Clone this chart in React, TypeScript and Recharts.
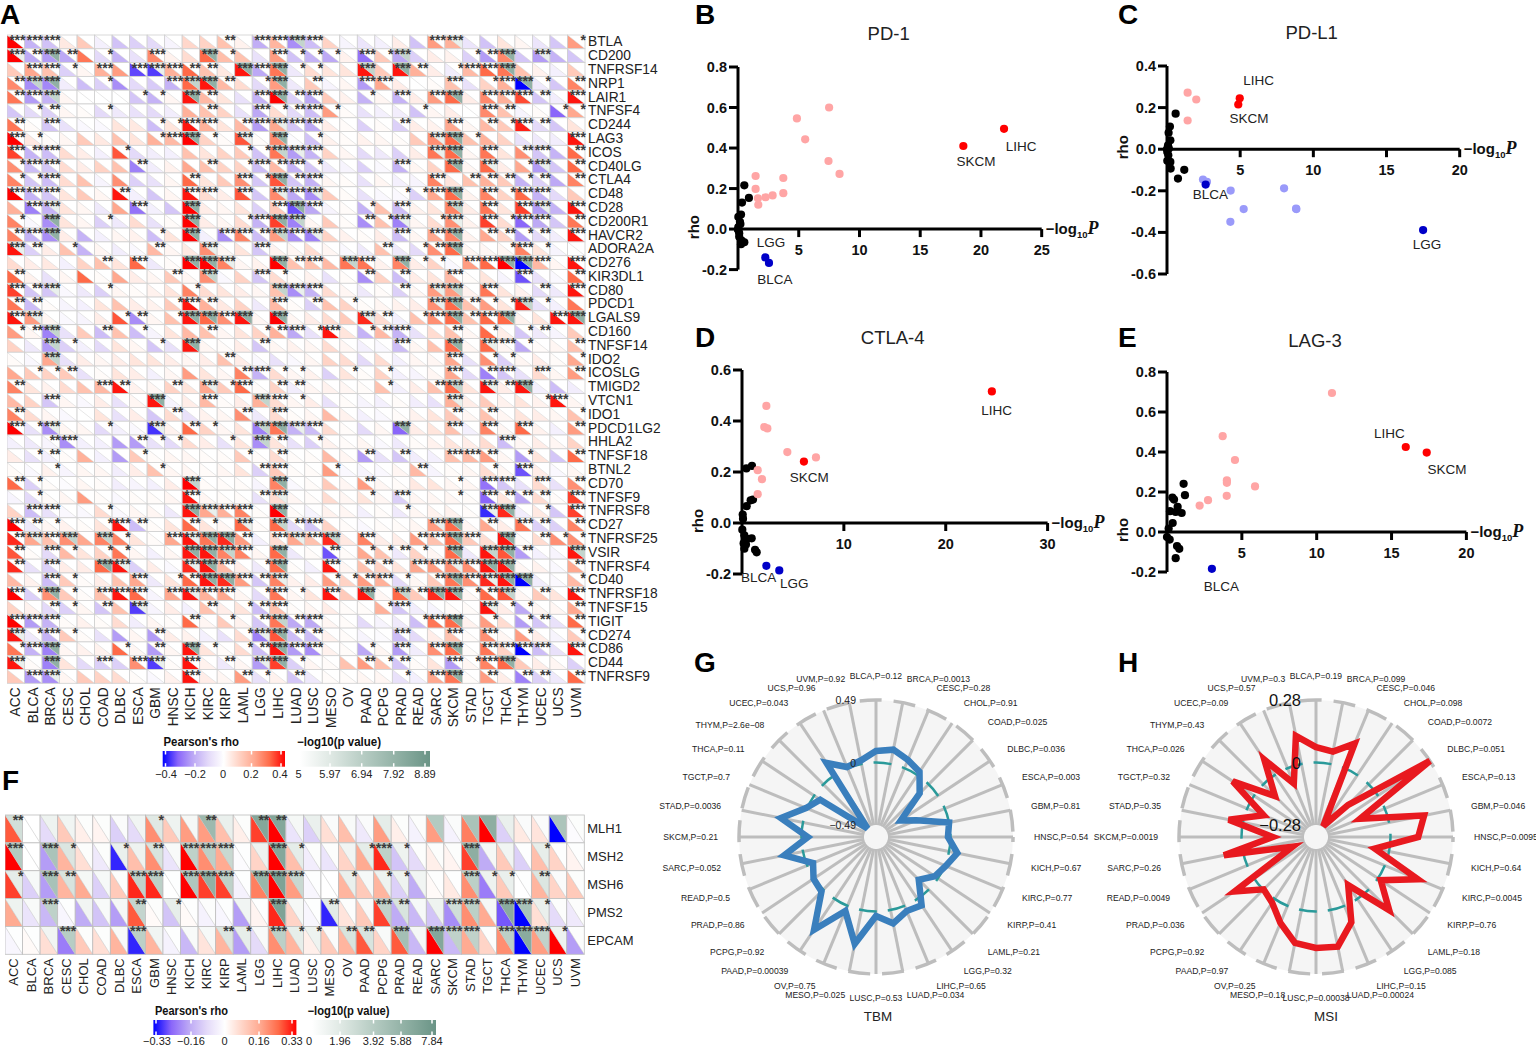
import React from 'react';
import {
    ScatterChart, Scatter, XAxis, YAxis, ReferenceLine, ReferenceDot,
    RadarChart, Radar, PolarGrid, PolarAngleAxis, PolarRadiusAxis
} from 'recharts';

const FONT = '"Liberation Sans", Arial, sans-serif';

// ---------- heatmap axes
const cancers = ['ACC', 'BLCA', 'BRCA', 'CESC', 'CHOL', 'COAD', 'DLBC', 'ESCA', 'GBM', 'HNSC', 'KICH', 'KIRC', 'KIRP', 'LAML', 'LGG', 'LIHC', 'LUAD', 'LUSC', 'MESO', 'OV', 'PAAD', 'PCPG', 'PRAD', 'READ', 'SARC', 'SKCM', 'STAD', 'TGCT', 'THCA', 'THYM', 'UCEC', 'UCS', 'UVM'];
const checkpointGenes = ['BTLA', 'CD200', 'TNFRSF14', 'NRP1', 'LAIR1', 'TNFSF4', 'CD244', 'LAG3', 'ICOS', 'CD40LG', 'CTLA4', 'CD48', 'CD28', 'CD200R1', 'HAVCR2', 'ADORA2A', 'CD276', 'KIR3DL1', 'CD80', 'PDCD1', 'LGALS9', 'CD160', 'TNFSF14', 'IDO2', 'ICOSLG', 'TMIGD2', 'VTCN1', 'IDO1', 'PDCD1LG2', 'HHLA2', 'TNFSF18', 'BTNL2', 'CD70', 'TNFSF9', 'TNFRSF8', 'CD27', 'TNFRSF25', 'VSIR', 'TNFRSF4', 'CD40', 'TNFRSF18', 'TNFSF15', 'TIGIT', 'CD274', 'CD86', 'CD44', 'TNFRSF9'];
const mmrGenes = ['MLH1', 'MSH2', 'MSH6', 'PMS2', 'EPCAM'];

// panel A, rho x 100, one row per gene
const rhoA = [
    [40, -18, -15, 5, 12, -4, -15, -12, -10, -3, 9, 10, 14, 3, -19, 17, -24, -16, 10, -3, -7, -4, 4, -15, 22, 18, -7, -15, 6, 2, -7, -14, 22],
    [40, -20, -22, -20, 28, -10, -18, -8, 25, 3, 8, 30, 15, 14, -8, 22, -15, -18, -20, 3, -28, 12, -20, -12, 4, 3, -12, -22, 25, -14, -22, -18, -14],
    [12, 20, 14, -12, 2, 18, 22, -33, -34, 18, 30, 14, 5, 38, -20, 28, -6, 8, 6, 6, 38, 12, 38, 18, 4, -5, 16, 30, 28, 14, 3, -4, 12],
    [25, -24, -25, -5, -16, -12, -24, -10, -13, -18, 30, 38, 16, 8, -10, 22, -6, 12, -3, 2, -22, 20, 4, 0, 1, 14, -8, 10, 18, -40, -6, -14, 26],
    [28, -22, -18, 2, 0, 0, 0, -14, -18, 2, 38, 16, 6, -8, -18, 40, -12, -20, 12, 3, -18, 2, -18, 4, 22, 30, 4, 25, 18, 33, -14, -5, 38],
    [-14, -10, -12, 2, 1, -10, -6, -8, -10, -5, 18, 14, 10, -8, -20, 8, -10, -16, 22, 1, -8, -4, -5, -15, 2, 4, 0, 25, 14, -3, 1, -30, 20],
    [28, 1, -14, -8, -2, -2, 6, 5, -16, 6, 38, 18, 6, 16, -22, 20, -14, -20, 4, 1, -12, 1, -12, 4, 3, 20, 2, 16, 12, 37, -10, -14, 6],
    [40, 5, 1, 2, 12, 5, 14, 6, 18, 16, 40, 10, 1, 32, 1, 25, -1, -15, 3, 1, 3, 2, 1, 12, 24, 30, 14, 18, 10, -8, -6, -5, 38],
    [34, -18, -16, 8, 4, -4, 32, -10, -5, -4, 14, 6, 10, 12, -15, 28, -22, -18, 10, 2, -10, -6, -12, 4, 28, 30, 2, 28, 6, 24, -14, -18, 30],
    [24, -16, -14, 8, 4, 10, 14, -26, -5, 3, 20, 14, 10, 10, -16, 16, -18, -14, -6, -3, -12, -2, -18, 2, 10, 30, 2, 30, 4, 20, -22, -14, 30],
    [26, -14, -16, 8, 14, -3, 24, -12, -8, 2, 30, 6, 12, 24, -14, 32, -14, -18, 2, 1, -8, 2, -4, -3, 26, 6, 14, 18, 12, -18, -12, -20, 26],
    [40, -18, -14, 6, 12, 2, 38, -4, -14, 2, 38, 8, 4, 32, -14, 25, -20, -24, 12, 1, -8, -2, -2, -12, 20, 30, 3, 26, 10, 30, -18, -10, 12],
    [18, -26, -18, 6, 2, -6, 20, -28, -4, -14, 40, 4, 2, 6, -12, 12, -32, -20, -3, 1, -18, 14, -16, 3, 6, 26, 4, 28, 6, 34, -22, -18, 38],
    [26, -2, -24, 6, 2, -12, -6, 8, -8, 1, 40, 4, 2, 8, -18, 34, -26, 2, 12, 1, -24, 14, -26, 2, 8, 24, 3, 34, 8, -30, -20, -14, 28],
    [26, -18, -24, 4, -18, -4, 2, 3, -16, 6, 40, -4, -24, 26, -16, 22, -24, -26, 10, 3, 1, 4, -16, 2, 20, 26, 3, 20, 10, -22, -10, -5, 38],
    [38, -12, 4, 14, -18, 2, -5, -2, 16, 2, 5, 24, 2, 6, -14, 3, 2, 8, 2, -2, -6, 14, -6, -10, 24, 30, 2, 2, 2, 26, 6, -3, 0],
    [8, 4, 5, -4, 10, 14, 6, 30, -6, 1, 40, 40, 26, 2, 3, 40, 14, 14, 16, 28, 28, 3, 26, 4, 10, -2, 22, 30, 40, -40, 16, 2, 38],
    [30, 3, -8, 2, 30, 1, 20, 4, 2, 12, 2, 24, -2, 10, -14, 8, 1, 3, -8, 1, -24, 10, -16, 4, 6, 16, 1, 6, -3, -32, -8, -2, 30],
    [34, -14, -14, -2, -6, -12, 2, 1, 3, 6, 26, 8, 6, 4, 2, 14, -24, -18, 8, 2, -6, 1, -12, 2, 22, 22, 3, 28, 6, 3, -10, -6, 38],
    [28, -16, 1, -3, -4, 6, 14, 4, 3, 12, 38, 18, 5, 10, -6, 16, 1, -12, 14, 10, 1, 2, 3, 4, 24, 30, 14, 22, 6, 37, -8, -4, 28],
    [38, 22, 2, -2, -3, 4, 32, -24, 2, 14, 38, 30, 24, 38, 2, 40, 2, 4, 8, 12, 36, 8, -4, 14, 24, 30, 14, 30, 30, 3, 6, 38, 38],
    [22, 2, -26, -8, 12, -16, 14, -16, -3, 6, 16, 14, 2, 6, 10, 18, -20, -8, 38, 6, -18, 16, -18, -8, 8, 14, 2, 30, 4, -14, -6, -3, 12],
    [10, -6, -22, -12, -4, -10, 6, 2, -14, -8, 38, 2, 1, 4, -14, 2, 3, 2, 8, 2, -4, -2, -16, 2, 14, 30, 2, 30, 2, -20, 1, 2, 14],
    [1, -2, 20, -8, 4, 2, 4, 6, 6, 4, 2, 4, 14, 4, -2, -8, -2, 2, 10, 8, -10, 8, -4, 2, 2, 20, -8, 24, -12, 2, 4, 1, 20],
    [20, 12, 10, 12, -8, 1, 6, 4, -4, 2, 22, 6, 2, 26, -18, 8, 2, 3, -12, 6, 1, 10, -4, -3, 2, 20, -10, -26, -14, -8, 8, 2, 22],
    [26, 6, 3, 8, 14, 16, 38, 3, 2, 10, 6, 20, 12, 30, 1, 10, -5, 2, 3, 2, 1, 14, -4, 4, 14, 30, 6, 38, 4, 38, -4, -16, -5],
    [16, 10, -14, 2, -2, 4, -8, 2, 38, -3, 4, 16, 1, 4, 18, 8, 2, 4, -8, 1, -3, -4, 1, -5, -8, 18, 4, 12, 3, 6, 3, 38, 2],
    [26, 8, 2, -2, 0, 6, -8, 4, -14, 8, -8, 3, 2, 24, -6, 8, 1, 2, 16, 3, -4, -2, 1, 3, 6, 12, 2, 14, 2, 6, 4, 2, 14],
    [40, -8, -24, 2, 2, -10, -4, -2, -35, 3, 30, 10, 2, 6, -26, 28, -18, -16, 8, 1, -10, 2, -30, 4, 6, 14, -4, 26, 2, 30, 3, -4, 22],
    [-4, -6, -3, -24, -4, -4, -22, -22, -8, -10, 8, 4, -8, 6, -24, 6, -8, -12, 3, 1, 2, -2, -6, 1, 3, 6, 4, 8, -16, 2, 4, 2, 10],
    [4, -8, -4, 1, 18, -4, -22, 12, 1, 2, 2, 1, 1, 12, 1, 8, 1, 1, 16, 2, -22, -8, -14, -5, -4, 14, 16, 22, 2, -22, 6, -14, 30],
    [1, -2, 3, -3, 2, 2, -5, 4, 14, 2, 2, 1, 2, 6, -12, 12, 1, 1, 22, -2, -3, -2, 2, 16, -3, 1, 2, 8, 2, -32, 4, -2, 2],
    [30, -12, 1, -1, 2, 1, -5, -3, -4, 4, 40, 1, 1, 1, -3, 26, -2, 1, 12, 2, 22, 2, 1, 5, 6, 2, 2, -28, -14, -8, 8, -8, 24],
    [-3, -10, 1, 2, 22, 1, -2, 1, 1, 2, 38, 2, 1, 1, -8, 8, 2, 1, 8, 2, 6, 2, -12, 2, 2, 2, 1, -30, 6, -20, 8, 1, 34],
    [10, -16, -8, -2, -2, 8, -2, 2, 2, -6, 38, 20, 18, 26, 1, 40, 1, -3, 3, 2, -4, 1, -6, 2, 3, 3, 1, -36, 36, -5, 5, -14, 34],
    [40, -6, 2, 3, 1, 6, 38, -16, 1, 6, 30, 6, 2, 30, 1, 30, -10, -14, 10, 1, -2, 1, 1, 2, 22, 30, 2, 20, 4, 28, -12, -12, 26],
    [36, 20, 14, 24, 20, 26, 26, 6, 1, 20, 38, 28, 36, 22, -4, 8, 20, 14, 36, 5, 26, 4, 4, 22, 14, 30, 12, 8, 38, 1, 8, 24, 24],
    [32, 1, -10, 16, 6, 10, 28, 2, -4, 2, 38, 38, 26, 26, 2, 30, -6, 1, -32, 1, 20, 14, -6, 10, 2, 30, -6, 38, 32, -22, -4, -3, 38],
    [36, -8, -12, 4, 4, 30, 38, -12, 4, -2, 36, 38, 16, 4, -6, 30, 1, -4, 38, 2, 14, 10, 6, 20, 22, 24, 24, 38, 38, 2, 3, -2, 20],
    [16, 3, -16, 12, 1, 4, 14, 20, -6, 6, 30, 38, 36, 22, -14, 26, 3, 4, 22, 10, 22, 18, -10, 2, 12, 28, 24, 36, 38, -40, -5, -2, 16],
    [40, -12, 24, 12, 1, 14, 38, 30, -3, 20, 38, 18, 20, 2, -10, 28, 2, 6, 38, 12, 38, 2, 30, 12, 36, 38, 2, 30, 32, 2, 12, 6, 38],
    [10, 3, -10, -12, 2, -14, 14, -34, -3, 4, -4, 14, 4, 6, -16, 14, 1, 2, 4, 1, 1, 18, -14, -5, -3, 1, 1, 38, 4, -20, 2, 2, 20],
    [40, -22, -18, 1, 3, 1, 8, -5, 2, 1, 30, 2, 12, 3, -14, 28, -20, -20, 2, 1, -10, -3, -6, -16, 28, 30, 3, 22, 8, -22, -14, -8, 30],
    [38, -6, -18, 12, 1, -8, -22, 2, -22, 4, 3, -4, -8, 8, -26, 32, -16, -16, 3, 1, -3, -1, -16, -10, 4, 14, 1, 24, 2, 22, 4, -3, 12],
    [28, -18, -26, 2, 3, 3, 30, 2, -22, 2, 38, 6, 1, 8, -16, 38, -22, -24, 3, 1, -20, 2, -22, -5, 24, 30, 1, 28, 10, -40, -16, -8, 38],
    [38, 1, -26, 6, -10, -12, -12, 24, -34, 1, 38, 3, -6, 2, -22, 34, -12, 2, 1, 14, 22, 14, -14, 1, 6, -22, 2, 26, 30, 12, 4, 2, -12],
    [12, -22, -24, 2, 12, 10, 8, 1, -2, 3, 38, 4, 2, 22, -8, 3, -14, -6, 1, 1, 2, 2, -8, -4, 20, 28, 1, 22, 4, -26, -12, -6, 30]
];

// panel A significance: 0-3 = asterisks, a-d = *** plus rising green for -log10(p) above 5
const sigA = [
    '3330000000 002033b300 00003a0000 001', 'a2c2010030 0c10031110 31b00012c0 a00', '03310303a3 220c3c1100 b0c20133c0 000',
    '2bc0010003 bc201c0200 330003013c 102', '23b0000110 c2003c2300 10303c0333 203', '0120010000 0200312310 0001000320 011',
    '2030000011 33023a3300 0020030213 200', '3100000013 c10a0c0100 0000ac1000 003', '3230001000 00011ba300 0000ac0302 302',
    '1330000200 0201323100 00300c0a01 a02', '1130000000 20031c2300 0000302221 202', '3330002000 33030a3a00 00113c0313 300',
    '03a0000300 c00003c300 10300b0303 a03', '10c0010000 c0013cb000 21a01a0313 302', '23c0000010 c0332b3a00 00303c0221 203',
    'a201000020 0a00300000 02012c0013 100', '0000020300 cca00c230b 30c11033cc 303', '2000000002 0b00310000 2020030003 002',
    '32a0010000 10000ba300 0020ab0300 203', '2200000001 3200030201 0000ac211b 100', '3a00001201 cc3c0c0000 a2013c23c0 03c',
    '12b0020100 0200123130 1230020101 200', '00b1000010 c000200000 00300c0a31 002', '00b0000000 0020000000 0000030110 001',
    '0112000000 0002311001 0100030230 302', '2000032002 0a13022000 01002b0a2c 000', '00300000c0 0300b31000 00000a0000 130',
    '2000000002 0002030000 0000020200 001', '31a00100a0 2100bca300 00c0030303 002', '0023000211 0010b20100 0000000030 000',
    '0120000100 0001020000 2020033201 002', '0010000010 0000230010 0002000103 000', '2100000000 b0000c0000 2000010330 302',
    '0100000000 30002a0000 1030010322 203', '0330010000 ca330c0000 0010000ac0 103', '3210013200 210a0b2300 0000ac0203 202',
    '2a3b0b1003 acc203a3b0 30023c30c0 211', '2031011000 ccb30c0020 11210c0bc2 00b', '20300ca000 ac301c0030 22033a3cc0 002',
    '0031000301 2cc32a0011 23102c3acc 001', '31c1033303 a330131030 c0b2cc12b0 203', '0021020a00 0201230000 0130000a11 002',
    '3330000000 20102b2300 00013c0101 202', 'a131000020 0001ac2200 0030030301 001', '13c0001020 c1012c3300 10303c0333 303',
    'a0c00303a0 3020ac1000 21200313c0 000', '03a0000000 3002102000 00103c0202 202'
];
const greenLevels: Record<string, number> = { a: 5.6, b: 6.6, c: 7.9, d: 8.89 };

// panel F, rho x 100, -log10(p) and asterisks
const rhoF = [
    [26, 0, -8, 10, 3, 2, -10, -8, 20, 10, 18, 18, 12, 3, 28, 33, -6, -10, 6, 12, -5, 18, 3, -3, 18, -3, 22, 33, -10, 4, 5, -33, -1],
    [33, 0, -18, 14, 6, -5, -30, 12, 20, -6, 33, 20, 16, -1, 8, 33, 12, -4, -6, 8, 16, 30, -12, -8, 3, 2, 28, -16, 10, -10, 12, 8, 2],
    [28, -10, -18, 14, 16, -10, 10, 30, 30, 0, 33, 28, 28, -3, 22, 33, 18, -2, 0, 14, 10, 14, -10, -16, 1, 4, 20, -22, 10, 0, 14, 8, 10],
    [16, -6, -14, -2, -16, -12, -18, 26, 1, -12, 1, -3, -2, -18, 2, 30, 8, -2, -30, 5, 10, 28, -16, -14, -12, -20, 20, 16, -26, -33, 6, -8, -5],
    [-2, 1, 6, -22, 10, 6, 14, -30, 14, -3, -14, 5, 14, -18, -8, 20, 14, 3, 10, 14, 26, 8, 26, -14, 33, -14, 16, 8, 20, -33, 18, 33, -18]
];
const logPF = [
    [2.5, 0, 1, 0.8, 0.2, 0.2, 0.3, 0.8, 1.8, 1, 0.6, 5.2, 1.2, 0.2, 6.5, 6.5, 0.6, 1.2, 0.3, 0.4, 0.3, 1.5, 0.2, 0.2, 4, 0.3, 4.5, 6, 1.2, 0.3, 0.3, 4.4, 0.2],
    [4, 0, 4.5, 2, 0.2, 0.2, 1.2, 1, 2.2, 0.4, 3.5, 3.6, 3, 0.1, 1, 6.5, 1.5, 0.2, 0.2, 0.8, 1.5, 3.5, 1, 0.2, 0.2, 0.2, 6, 0.6, 0.8, 0.1, 1.4, 0.1, 0.1],
    [1.5, 0.5, 4.6, 2.2, 0.6, 0.5, 0.2, 3.4, 3.6, 0.1, 4.2, 5.8, 3.5, 0.1, 5.4, 6.8, 3, 0.1, 0, 1.2, 0.5, 1, 1, 0.8, 0.1, 0.1, 3.6, 1, 1.2, 0.1, 2, 0.3, 0.2],
    [1, 0.4, 3.5, 0.1, 0.8, 0.4, 0.6, 3.2, 0.2, 1.4, 0.1, 0.2, 0.1, 0.8, 0.1, 6.8, 0.6, 0.1, 1.6, 0.2, 0.4, 3.4, 2.2, 0.5, 1, 2.6, 3.6, 0.6, 6.2, 4.6, 1.2, 0.2, 0.2],
    [0.1, 0.1, 0.8, 3.8, 0.2, 0.2, 0.4, 3.6, 0.8, 0.1, 0.4, 0.5, 2, 1.4, 0.4, 3.6, 1.4, 1, 0.3, 2.2, 2.2, 0.4, 4.8, 0.6, 6.5, 3.4, 3.4, 0.2, 3.6, 6.2, 3.4, 1, 0.2]
];
const starsF = [
    '2000000010 0200220000 0000000000 000',
    '3031001020 3330031000 1310003000 100',
    '1032000330 3330333001 0110003110 200',
    '0030000201 0000030020 0320033033 100',
    '0003000300 0021031102 2030333033 310'
];

// ---------- scatter panels (x = -log10 P, y = rho)
const pd1Black = [[0.52, 0.216], [0.9, 0.154], [0.33, 0.131], [0.25, 0.072], [0.03, 0.06], [0.16, 0.036], [0.2, 0.025], [0.03, 0.01], [0.03, -0.005], [0, -0.002], [0.1, -0.02], [0.1, -0.038], [0.3, -0.057], [0.52, -0.065], [0.25, -0.075]];
const pd1Pink = [[7.5, 0.6], [4.85, 0.546], [5.53, 0.443], [7.45, 0.336], [8.36, 0.272], [1.45, 0.262], [3.73, 0.252], [1.45, 0.198], [3.73, 0.177], [2.85, 0.166], [2.27, 0.157], [1.64, 0.152], [1.67, 0.12]];
const pd1Red = [[21.9, 0.495], [18.55, 0.41]];
const pd1Blue = [[2.25, -0.14], [2.55, -0.167]];
const pd1Notes = [{ x: 23.3, y: 0.41, text: 'LIHC' }, { x: 19.6, y: 0.334, text: 'SKCM' }, { x: 2.71, y: -0.064, text: 'LGG' }, { x: 3.04, y: -0.248, text: 'BLCA' }];

const pdl1Black = [[0.59, 0.171], [0.2, 0.109], [0.11, 0.079], [0.23, 0.043], [0.07, 0.019], [0.13, 0.003], [0, 0], [0.02, -0.013], [0.09, -0.029], [0.02, -0.056], [0.23, -0.061], [0.25, -0.093], [1.18, -0.099], [0.75, -0.141]];
const pdl1Pink = [[1.41, 0.272], [2.0, 0.239], [1.41, 0.138]];
const pdl1Red = [[4.97, 0.245], [4.87, 0.215]];
const pdl1Light = [[2.46, -0.146], [2.73, -0.157], [4.35, -0.199], [8.0, -0.188], [5.24, -0.288], [8.84, -0.288], [8.82, -0.286], [4.33, -0.349]];
const pdl1Blue = [[2.64, -0.17], [17.5, -0.389]];
const pdl1Notes = [{ x: 6.26, y: 0.329, text: 'LIHC' }, { x: 5.6, y: 0.147, text: 'SKCM' }, { x: 2.96, y: -0.218, text: 'BLCA' }, { x: 17.77, y: -0.46, text: 'LGG' }];

const ctla4Black = [[0.98, 0.224], [0.43, 0.214], [1.08, 0.092], [0.85, 0.089], [0.46, 0.066], [0.07, 0.033], [0.1, 0.017], [0.03, -0.026], [0.23, -0.048], [0.95, -0.06], [0.49, -0.062], [0.39, -0.084], [0.16, -0.08], [0.23, -0.101], [1.28, -0.105], [1.44, -0.115]];
const ctla4Pink = [[2.39, 0.459], [2.19, 0.376], [2.49, 0.371], [4.45, 0.278], [7.26, 0.257], [1.54, 0.207], [1.96, 0.172], [1.54, 0.113]];
const ctla4Red = [[24.53, 0.516], [6.08, 0.241]];
const ctla4Blue = [[2.39, -0.168], [3.66, -0.186]];
const ctla4Notes = [{ x: 25.0, y: 0.442, text: 'LIHC' }, { x: 6.6, y: 0.177, text: 'SKCM' }, { x: 1.64, y: -0.215, text: 'BLCA' }, { x: 5.14, y: -0.239, text: 'LGG' }];

const lag3Black = [[1.11, 0.241], [1.2, 0.184], [0.36, 0.172], [0.47, 0.162], [0.71, 0.126], [0.2, 0.104], [0.58, 0.1], [0.98, 0.095], [0.38, 0.045], [0.11, 0.017], [0, -0.025], [0.18, -0.038], [0.67, -0.07], [0.82, -0.084], [0.58, -0.131]];
const lag3Pink = [[11.02, 0.695], [3.72, 0.479], [4.54, 0.36], [4.0, 0.258], [4.0, 0.246], [5.88, 0.228], [3.99, 0.181], [2.74, 0.159], [2.18, 0.132]];
const lag3Red = [[15.95, 0.425], [17.35, 0.397]];
const lag3Blue = [[3.0, -0.184]];
const lag3Notes = [{ x: 14.86, y: 0.492, text: 'LIHC' }, { x: 18.7, y: 0.311, text: 'SKCM' }, { x: 3.63, y: -0.273, text: 'BLCA' }];

// ---------- radar panels
const radarCancers = cancers.slice(1);
const tbmP = ['0.12', '0.0013', '0.28', '0.91', '0.025', '0.036', '0.003', '0.81', '0.54', '0.67', '0.77', '0.41', '0.21', '0.32', '0.65', '0.034', '0.53', '0.025', '0.75', '0.00039', '0.92', '0.86', '0.5', '0.052', '0.21', '0.0036', '0.7', '0.11', '2.6e\u221208', '0.043', '0.96', '0.92'];
const tbmRho = [0.09, 0.114, 0.07, 0.03, -0.1, -0.35, -0.24, 0, -0.02, 0.066, 0.008, -0.03, -0.11, 0.06, 0.044, 0.106, 0.036, 0.27, 0.044, 0.29, 0.02, 0.005, -0.05, 0.15, -0.05, 0.176, 0.01, -0.058, -0.49, 0.114, 0.01, 0.027];
const msiP = ['0.19', '0.099', '0.046', '0.098', '0.0072', '0.051', '0.13', '0.046', '0.0095', '0.64', '0.0045', '0.76', '0.18', '0.085', '0.15', '0.00024', '0.00038', '0.18', '0.25', '0.97', '0.92', '0.036', '0.0049', '0.26', '0.0019', '0.35', '0.32', '0.026', '0.43', '0.09', '0.57', '0.3'];
const msiRho = [0.069, 0.056, 0.119, -0.275, -0.13, 0.28, -0.12, 0.16, 0.124, -0.065, 0.16, 0.015, 0.13, -0.074, 0.08, 0.167, 0.163, 0.15, 0.083, 0.02, -0.002, 0.105, -0.22, 0.087, -0.14, 0.065, -0.08, 0.115, -0.074, 0.083, -0.074, 0.128];

// ---------- colours
const blueStops = ['#ffffff', '#e4daf9', '#bda9f5', '#8a66fa', '#0000ff'];
const redStops = ['#ffffff', '#ffd3c5', '#ffa88f', '#ff6a48', '#ff0000'];
const greenStops = ['#ffffff', '#dde7e2', '#b5cbc2', '#90b0a4', '#6a9486'];

const ramp = (stops: string[], t: number) => {
    const p = Math.min(Math.max(t, 0), 1) * (stops.length - 1);
    const i = Math.min(Math.floor(p), stops.length - 2);
    const f = p - i;
    const ch = (s: string, k: number) => parseInt(s.slice(1 + k * 2, 3 + k * 2), 16);
    const mix = [0, 1, 2].map(k => Math.round(ch(stops[i], k) * (1 - f) + ch(stops[i + 1], k) * f));
    return `rgb(${mix[0]},${mix[1]},${mix[2]})`;
};
const rhoColor = (t: number) => (t < 0 ? ramp(blueStops, -t) : ramp(redStops, t));

const clean = (s: string) => s.replace(/ /g, '');

const cellsA = checkpointGenes.flatMap((_, r) => cancers.map((_c, c) => {
    const ch = clean(sigA[r])[c] || '0';
    const level = greenLevels[ch];
    return {
        col: c + 0.5, row: r + 0.5,
        rho: rhoColor(rhoA[r][c] / 40),
        green: level ? ramp(greenStops, (level - 5) / 3.89) : '#ffffff',
        stars: level ? 3 : Number(ch)
    };
}));
const cellsF = mmrGenes.flatMap((_, r) => cancers.map((_c, c) => ({
    col: c + 0.5, row: r + 0.5,
    rho: rhoColor(rhoF[r][c] / 33),
    green: ramp(greenStops, logPF[r][c] / 7.84),
    stars: Number(clean(starsF[r])[c] || 0)
})));

function Heatmap({ left, top, plotW, plotH, genes, cells, tickFont, geneFont, border }: any) {
    const w = plotW / cancers.length;
    const h = plotH / genes.length;
    const marginTop = 10;
    return (
        <div style={{ position: 'absolute', left, top: top - marginTop }}>
            <ScatterChart width={plotW + 90} height={plotH + marginTop + 50} margin={{ top: marginTop, left: 0, right: 0, bottom: 49 }}>
                <XAxis
                    type="number" dataKey="col" domain={[0, cancers.length]} ticks={cancers.map((_, i) => i + 0.5)} interval={0}
                    height={1} axisLine={false} tickLine={false}
                    tick={(p: any) => (
                        <text
                            transform={`translate(${p.x},${marginTop + plotH + 4}) rotate(-90)`}
                            textAnchor="end" dominantBaseline="central"
                            fontSize={tickFont} fontFamily={FONT} fill="#222"
                        >
                            {cancers[Math.floor(p.payload.value)]}
                        </text>
                    )}
                />
                <YAxis
                    type="number" dataKey="row" domain={[0, genes.length]} reversed orientation="right"
                    ticks={genes.map((_: string, i: number) => i + 0.5)} interval={0}
                    width={90} axisLine={false} tickLine={false}
                    tick={(p: any) => (
                        <text x={plotW + 3} y={p.y} dominantBaseline="central" fontSize={geneFont} fontFamily={FONT} fill="#222">
                            {genes[Math.floor(p.payload.value)]}
                        </text>
                    )}
                />
                <Scatter
                    data={cells} isAnimationActive={false}
                    shape={(p: any) => {
                        const x = p.cx - w / 2;
                        const y = p.cy - h / 2;
                        const d = p.payload;
                        return (
                            <g>
                                <path d={`M${x},${y}L${x},${y + h}L${x + w},${y + h}Z`} fill={d.rho} />
                                <path d={`M${x},${y}L${x + w},${y}L${x + w},${y + h}Z`} fill={d.green} />
                                <rect x={x} y={y} width={w} height={h} fill="none" stroke={border} strokeWidth={0.8} />
                                <line x1={x} y1={y} x2={x + w} y2={y + h} stroke={border} strokeWidth={0.5} />
                            </g>
                        );
                    }}
                />
                <Scatter
                    data={cells.filter((c: any) => c.stars > 0)} isAnimationActive={false}
                    shape={(p: any) => (
                        <text
                            x={p.cx + w / 2 + 1} y={p.cy - h / 2 + 10}
                            textAnchor="end" fontSize={14} fontWeight={700} fontFamily={FONT} fill="#3a3a3a"
                        >
                            {'*'.repeat(p.payload.stars)}
                        </text>
                    )}
                />
            </ScatterChart>
        </div>
    );
}

const toPoints = (list: number[][]) => list.map(([x, y]) => ({ x, y }));
const dot = (fill: string) => (p: any) => <circle cx={p.cx} cy={p.cy} r={4.1} fill={fill} />;

function VolcanoPanel({ axisX, topY, plotW, plotH, xMax, xTicks, yMin, yMax, yTicks, black, pink, light, red, blue, notes }: any) {
    const marginTop = 10;
    const axisWidth = 70;
    const zeroY = marginTop + plotH * yMax / (yMax - yMin);
    return (
        <div style={{ position: 'absolute', left: axisX - axisWidth, top: topY - marginTop }}>
            <ScatterChart width={plotW + axisWidth + 70} height={plotH + marginTop + 40} margin={{ top: marginTop, left: 0, right: 70, bottom: 39 }}>
                <XAxis
                    type="number" dataKey="x" domain={[0, xMax]} ticks={xTicks} interval={0} height={1}
                    axisLine={false} tickLine={false}
                    tick={(p: any) => (
                        <g>
                            <line x1={p.x} x2={p.x} y1={zeroY} y2={zeroY + 8} stroke="#000" strokeWidth={3} />
                            <text x={p.x} y={zeroY + 26} textAnchor="middle" fontSize={14.5} fontWeight={700} fontFamily={FONT} fill="#111">{p.payload.value}</text>
                        </g>
                    )}
                />
                <YAxis
                    type="number" dataKey="y" domain={[yMin, yMax]} ticks={yTicks} interval={0} width={axisWidth}
                    axisLine={false} tickLine={false}
                    tick={(p: any) => (
                        <g>
                            <line x1={axisWidth - 9} x2={axisWidth} y1={p.y} y2={p.y} stroke="#000" strokeWidth={3} />
                            <text x={axisWidth - 11} y={p.y} textAnchor="end" dominantBaseline="central" fontSize={14.5} fontWeight={700} fontFamily={FONT} fill="#111">
                                {Number(p.payload.value).toFixed(1)}
                            </text>
                        </g>
                    )}
                />
                <ReferenceLine x={0} stroke="#000" strokeWidth={3} />
                <ReferenceLine y={0} stroke="#000" strokeWidth={3} />
                <Scatter data={toPoints(black)} isAnimationActive={false} shape={dot('#000000')} />
                <Scatter data={toPoints(pink)} isAnimationActive={false} shape={dot('#ffa5a5')} />
                {light && <Scatter data={toPoints(light)} isAnimationActive={false} shape={dot('#9a9afa')} />}
                <Scatter data={toPoints(red)} isAnimationActive={false} shape={dot('#ff0000')} />
                <Scatter data={toPoints(blue)} isAnimationActive={false} shape={dot('#0000c8')} />
                {notes.map((n: any) => (
                    <ReferenceDot
                        key={n.text} x={n.x} y={n.y} ifOverflow="visible"
                        shape={(p: any) => (
                            <text x={p.cx} y={p.cy} textAnchor="middle" dominantBaseline="central" fontSize={13.5} fontFamily={FONT} fill="#222">{n.text}</text>
                        )}
                    />
                ))}
                <ReferenceDot
                    x={0} y={0} ifOverflow="visible"
                    shape={(p: any) => (
                        <text
                            transform={`translate(${p.cx - 44},${p.cy - 2}) rotate(-90)`}
                            textAnchor="middle" dominantBaseline="central"
                            fontSize={15} fontWeight={700} fontFamily={FONT} fill="#111"
                        >
                            rho
                        </text>
                    )}
                />
                <ReferenceDot
                    x={xMax} y={0} ifOverflow="visible"
                    shape={(p: any) => (
                        <text x={p.cx + 4} y={p.cy + 5} fontWeight={700} fontFamily={FONT} fontSize={15} fill="#111">
                            {'\u2212log'}
                            <tspan fontSize={9.5} dy={4}>10</tspan>
                            <tspan fontSize={18} dy={-4} fontStyle="italic" fontFamily='"Liberation Serif", serif'>P</tspan>
                        </text>
                    )}
                />
            </ScatterChart>
        </div>
    );
}

function RadarPanel({ centerX, centerY, pValues, values, limit, color, labelDx, labelFont, tickColor }: any) {
    const rows = radarCancers.map((name, i) => ({
        name: `${name},P=${pValues[i]}`,
        value: values[i]
    }));
    const zeroRadius = 12 + 125 / 2;
    return (
        <div style={{ position: 'absolute', left: centerX - 240, top: centerY - 200 }}>
            <div style={{ position: 'absolute', left: 240 - 137, top: 200 - 137, width: 274, height: 274, borderRadius: '50%', background: '#f5f5f5' }} />
            <div style={{ position: 'absolute', left: 0, top: 0 }}>
                <RadarChart
                    width={480} height={400} cx={240} cy={200} data={rows}
                    innerRadius={12} outerRadius={137} startAngle={90} endAngle={-270}
                >
                    <PolarGrid gridType="circle" polarRadius={[]} stroke="#bdbdbd" strokeWidth={3} />
                    <PolarGrid gridType="circle" polarRadius={[137]} radialLines={false} stroke="#bdbdbd" strokeWidth={3.5} strokeDasharray="22 12" strokeDashoffset={-17} />
                    <PolarGrid gridType="circle" polarRadius={[zeroRadius]} radialLines={false} stroke="#2a9a9a" strokeWidth={2.5} strokeDasharray="18 11" />
                    <PolarAngleAxis
                        dataKey="name" tickLine={false} axisLine={false} tickSize={21}
                        tick={{ fontSize: 8.6, fontFamily: FONT, fill: '#222' }}
                    />
                    <PolarRadiusAxis
                        angle={90} domain={[-limit, limit]} ticks={[-limit, 0, limit]} tickCount={3} axisLine={false} tickLine={false}
                        tick={(p: any) => (
                            <text x={p.x + labelDx} y={p.y} textAnchor="end" dominantBaseline="central" fontSize={labelFont} fontFamily={FONT} fill={tickColor}>
                                {String(p.payload.value).replace('-', '\u2212')}
                            </text>
                        )}
                    />
                    <Radar dataKey="value" stroke={color} strokeWidth={6.5} fillOpacity={0} isAnimationActive={false} dot={false} />
                </RadarChart>
            </div>
        </div>
    );
}

function ColorBar({ id, x, width, y, height, stops, tickXs, labels, labelXs, labelY }: any) {
    return (
        <g fontFamily={FONT}>
            <defs>
                <linearGradient id={id}>
                    {stops.map((c: string, i: number) => (
                        <stop key={i} offset={`${(i / (stops.length - 1)) * 100}%`} stopColor={c} />
                    ))}
                </linearGradient>
            </defs>
            <rect x={x} y={y} width={width} height={height} fill={`url(#${id})`} />
            {tickXs.map((t: number, i: number) => (
                <g key={i} stroke="#fff" strokeWidth={1.5}>
                    <line x1={t} x2={t} y1={y} y2={y + 3.5} />
                    <line x1={t} x2={t} y1={y + height - 3.5} y2={y + height} />
                </g>
            ))}
            {labels.map((l: string, i: number) => (
                <text key={l + i} x={labelXs[i]} y={labelY} textAnchor="middle" dominantBaseline="central" fontSize={11} fill="#222">{l}</text>
            ))}
        </g>
    );
}

const rhoBarStops = [...blueStops].reverse().concat(redStops.slice(1));

export default function App() {
    const letter = (t: string, x: number, y: number) => (
        <text x={x} y={y} fontSize={28} fontWeight={700} fontFamily={FONT} fill="#000">{t}</text>
    );
    const title = (t: string, x: number, y: number) => (
        <text x={x} y={y} textAnchor="middle" dominantBaseline="central" fontSize={18.5} fontFamily={FONT} fill="#222">{t}</text>
    );
    return (
        <div style={{ position: 'absolute', left: 0, top: 0, width: 1536, height: 1046, background: '#fff', overflow: 'hidden' }}>
            <Heatmap left={7} top={35} plotW={578} plotH={648.3} genes={checkpointGenes} cells={cellsA} tickFont={13.8} geneFont={13.8} border="#cfcfcf" />
            <Heatmap left={4.7} top={814.7} plotW={579.3} plotH={139.3} genes={mmrGenes} cells={cellsF} tickFont={13} geneFont={13} border="#bdbdbd" />

            <VolcanoPanel axisX={738} topY={66.7} plotW={303.7} plotH={202.6} xMax={25} xTicks={[5, 10, 15, 20, 25]} yMin={-0.2} yMax={0.8} yTicks={[-0.2, 0, 0.2, 0.4, 0.6, 0.8]} black={pd1Black} pink={pd1Pink} red={pd1Red} blue={pd1Blue} notes={pd1Notes} />
            <VolcanoPanel axisX={1167.3} topY={66} plotW={292.7} plotH={208} xMax={20} xTicks={[5, 10, 15, 20]} yMin={-0.6} yMax={0.4} yTicks={[-0.6, -0.4, -0.2, 0, 0.2, 0.4]} black={pdl1Black} pink={pdl1Pink} light={pdl1Light} red={pdl1Red} blue={pdl1Blue} notes={pdl1Notes} />
            <VolcanoPanel axisX={741.7} topY={370} plotW={305.6} plotH={204} xMax={30} xTicks={[10, 20, 30]} yMin={-0.2} yMax={0.6} yTicks={[-0.2, 0, 0.2, 0.4, 0.6]} black={ctla4Black} pink={ctla4Pink} red={ctla4Red} blue={ctla4Blue} notes={ctla4Notes} />
            <VolcanoPanel axisX={1167.3} topY={372.3} plotW={299.4} plotH={200} xMax={20} xTicks={[5, 10, 15, 20]} yMin={-0.2} yMax={0.8} yTicks={[-0.2, 0, 0.2, 0.4, 0.6, 0.8]} black={lag3Black} pink={lag3Pink} red={lag3Red} blue={lag3Blue} notes={lag3Notes} />

            <RadarPanel centerX={876} centerY={837} pValues={tbmP} values={tbmRho} limit={0.49} color="#3a7fbd" labelDx={-20} labelFont={10.5} tickColor="#222" />
            <RadarPanel centerX={1316} centerY={837} pValues={msiP} values={msiRho} limit={0.28} color="#e8191f" labelDx={-15} labelFont={16.5} tickColor="#111" />

            <svg width={1536} height={1046} style={{ position: 'absolute', left: 0, top: 0, pointerEvents: 'none' }}>
                {letter('A', 0, 24)}
                {letter('B', 695, 24)}
                {letter('C', 1118, 24)}
                {letter('D', 695, 346.7)}
                {letter('E', 1118, 346.7)}
                {letter('F', 2, 790)}
                {letter('G', 694, 672)}
                {letter('H', 1118, 672)}

                {title('PD-1', 888.7, 33)}
                {title('PD-L1', 1311.7, 32)}
                {title('CTLA-4', 892.7, 337.3)}
                {title('LAG-3', 1315, 340)}

                <text x={878} y={1016.7} textAnchor="middle" dominantBaseline="central" fontSize={13.4} fontFamily={FONT} fill="#222">TBM</text>
                <text x={1326} y={1016.7} textAnchor="middle" dominantBaseline="central" fontSize={13.4} fontFamily={FONT} fill="#222">MSI</text>

                <g fontFamily={FONT} fontWeight={700} fontSize={12} fill="#111">
                    <text x={163.5} y={741.7} dominantBaseline="central" textLength={75.5} lengthAdjust="spacingAndGlyphs">Pearson's rho</text>
                    <text x={297} y={741.7} dominantBaseline="central" textLength={84} lengthAdjust="spacingAndGlyphs">{'\u2212log10(p value)'}</text>
                    <text x={155} y={1011} dominantBaseline="central" textLength={73} lengthAdjust="spacingAndGlyphs">Pearson's rho</text>
                    <text x={307.5} y={1011} dominantBaseline="central" textLength={82} lengthAdjust="spacingAndGlyphs">{'\u2212log10(p value)'}</text>
                </g>
                <ColorBar id="rhoA" x={162.7} width={122.3} y={751} height={15.7} stops={rhoBarStops} tickXs={[165.5, 195, 223, 251.5, 281]} labels={['\u22120.4', '\u22120.2', '0', '0.2', '0.4']} labelXs={[166, 195, 223, 251, 280]} labelY={773.5} />
                <ColorBar id="greenA" x={300} width={130} y={751} height={15.7} stops={greenStops} tickXs={[330, 361.7, 393.7, 425]} labels={['5', '5.97', '6.94', '7.92', '8.89']} labelXs={[298.5, 330, 361.7, 393.7, 425]} labelY={773.5} />
                <ColorBar id="rhoF" x={153.4} width={143} y={1020} height={15} stops={rhoBarStops} tickXs={[156, 191, 224.5, 259, 292]} labels={['\u22120.33', '\u22120.16', '0', '0.16', '0.33']} labelXs={[157, 191, 224.5, 259, 292]} labelY={1041} />
                <ColorBar id="greenF" x={312} width={124} y={1020} height={15} stops={greenStops} tickXs={[340, 373.5, 401, 432]} labels={['0', '1.96', '3.92', '5.88', '7.84']} labelXs={[309, 340, 373.5, 401, 432]} labelY={1041} />
            </svg>
        </div>
    );
}
